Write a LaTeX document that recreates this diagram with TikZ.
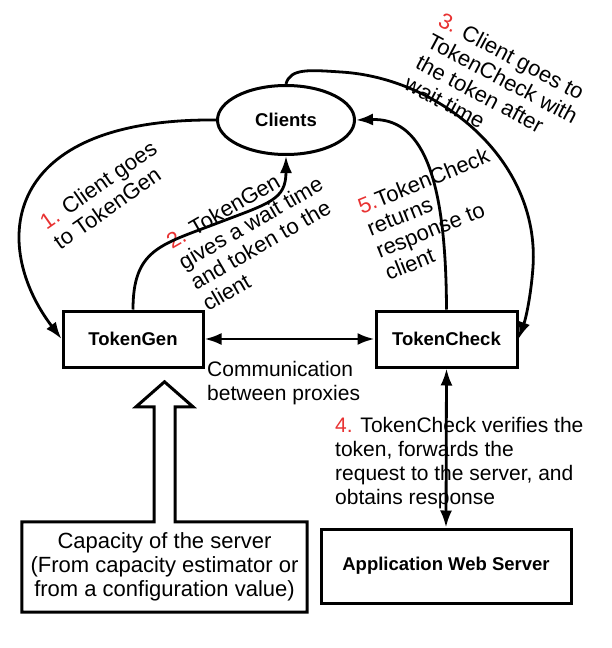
\documentclass[tikz,border=0pt]{standalone}
\usepackage{fontspec}
\setmainfont{Liberation Sans}
\usetikzlibrary{arrows.meta,shapes.geometric,calc}
\definecolor{stepred}{RGB}{232,50,50}
\begin{document}
\begin{tikzpicture}[x=1pt,y=-1pt,
  box/.style={draw, line width=3pt, rectangle, font=\fontsize{18.5}{22}\selectfont\bfseries, inner sep=0pt},
  txt/.style={font=\fontsize{22}{24}\selectfont, align=left, inner sep=0pt},
  smalltxt/.style={font=\fontsize{21}{24}\selectfont, align=left, inner sep=0pt},
  conn/.style={line width=2.8pt, -{Latex[length=17pt,width=12pt]}},
  both/.style={line width=2.8pt, {Latex[length=17pt,width=12pt]}-{Latex[length=17pt,width=12pt]}},
  outline/.style={line width=3pt, line join=miter}
]
\useasboundingbox (0,0) rectangle (612,648);

% nodes
\node[box, ellipse, minimum width=137pt, minimum height=69pt] (clients) at (286,120) {Clients};
\node[box, minimum width=140pt, minimum height=56pt] (tokengen) at (133,339) {TokenGen};
\node[box, minimum width=141pt, minimum height=56pt] (tokencheck) at (446.5,339) {TokenCheck};
\node[box, minimum width=250pt, minimum height=74pt] (appserver) at (446,566) {Application Web Server};
\node[txt, align=center, minimum width=285pt, minimum height=90pt] (capacity) at (164.5,567)
  {Capacity of the server\\(From capacity estimator or\\from a configuration value)};

% labels
\node[txt, rotate=35] (lab1) at (105,195) {\textcolor{stepred}{1.} Client goes\\to TokenGen};
\node[txt, rotate=30] (lab2) at (256.5,233) {\textcolor{stepred}{2.} TokenGen\\gives a wait time\\and token to the\\client};
\node[txt, rotate=-28] (lab3) at (497,89) {\textcolor{stepred}{3.} Client goes to\\TokenCheck with\\the token after\\wait time};
\node[txt, rotate=22] (lab5) at (437,214) {\textcolor{stepred}{5.}TokenCheck\\returns\\response to\\client};
\node[smalltxt, anchor=north west] (comm) at (207,361) {Communication\\between proxies};
\node[smalltxt, anchor=north west] (lab4) at (335,417) {\textcolor{stepred}{4.} TokenCheck verifies the\\token, forwards the\\request to the server, and\\obtains response};

% connectors
\draw[conn] (clients.west) .. controls (0,118) and (-10,245) .. (tokengen.west);
\draw[conn] (tokengen.north) .. controls (133,250) and (160,245) .. (215,224)
  .. controls (270,203) and (286,200) .. (clients.south);
\draw[conn] (tokencheck.north) .. controls (446,170) and (420,118) .. (clients.east);
\draw[conn] (clients.north) .. controls (290,68) and (310,70) .. (341,72)
  .. controls (440,78) and (540,160) .. (533,267)
  .. controls (531,295) and (526,318) .. (tokencheck.east);
\draw[both] (tokengen.east) -- (tokencheck.west);
\draw[both] (tokencheck.south) -- (appserver.north);

% capacity box merged with hollow arrow
\draw[outline] ($(capacity.north)+(-10.5,0)$) -| (capacity.south west)
  -| (capacity.north east) -- ($(capacity.north)+(10.5,0)$)
  -- ++(0,-115) -- ++(18,0) -- ($(capacity.north)+(0,-140)$)
  -- ++(-28.5,25) -- ++(18,0) -- cycle;
\end{tikzpicture}
\end{document}
